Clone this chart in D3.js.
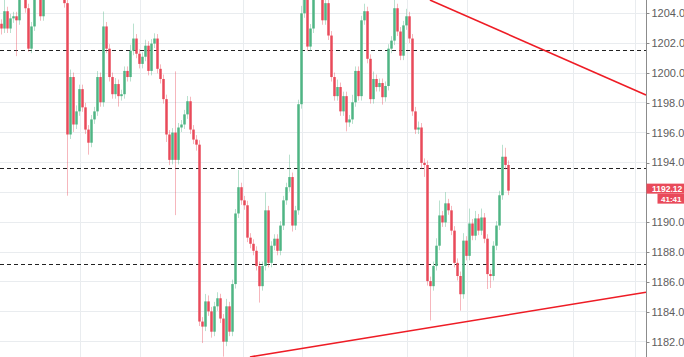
<!DOCTYPE html>
<meta charset="utf-8">
<html>

<head>
    <title>Candles 1182 - 1204</title>
    <style>
        body {
            margin: 0;
            background: #ffffff;
        }

        svg {
            display: block;
        }

        svg text {
            font-family: "Liberation Sans", Arial, sans-serif;
        }
    </style>
    <script src="https://d3js.org/d3.v7.min.js"></script>
</head>

<body>
    <div id="chart-container"></div>

    <script>
        // closing price of every candle left to right
        var closes = [
            1202.98, 1204.14, 1202.98, 1203.66, 1203.80, 1203.53, 1205.35, 1206.03, 1204.34, 1201.63,
            1203.12, 1205.35, 1205.69, 1203.80, 1205.56, 1206.37, 1207.05, 1206.71, 1207.39, 1206.71,
            1206.03, 1204.68, 1195.88, 1199.73, 1196.55, 1197.43, 1198.92, 1197.70, 1196.21, 1195.33,
            1196.89, 1197.43, 1199.73, 1198.04, 1203.12, 1201.63, 1199.73, 1198.58, 1199.26, 1198.45,
            1198.58, 1200.14, 1199.73, 1201.49, 1202.31, 1201.29, 1200.61, 1201.09, 1201.83, 1200.14,
            1201.97, 1202.31, 1200.28, 1199.60, 1198.25, 1195.88, 1194.18, 1196.01, 1194.18, 1196.35,
            1196.55, 1197.23, 1198.11, 1196.21, 1195.54, 1195.20, 1183.35, 1183.01, 1184.70, 1184.03,
            1182.67, 1184.37, 1184.91, 1183.55, 1182.00, 1184.37, 1182.67, 1185.86, 1190.59, 1192.35,
            1191.47, 1191.14, 1188.97, 1188.56, 1188.09, 1187.07, 1185.72, 1187.07, 1190.80, 1187.28,
            1188.43, 1188.90, 1188.09, 1189.78, 1191.47, 1192.35, 1193.03, 1189.78, 1190.80, 1197.91,
            1204.00, 1205.56, 1201.77, 1202.98, 1205.69, 1206.71, 1206.03, 1203.53, 1204.68, 1202.51,
            1199.73, 1198.45, 1199.06, 1197.43, 1198.45, 1196.69, 1196.89, 1198.04, 1200.14, 1198.45,
            1203.53, 1204.14, 1200.95, 1198.25, 1199.60, 1199.06, 1199.33, 1198.38, 1199.13, 1201.63,
            1202.17, 1204.34, 1202.78, 1201.16, 1203.19, 1203.80, 1202.31, 1197.43, 1196.21, 1196.35,
            1193.98, 1193.84, 1186.06, 1185.72, 1187.07, 1188.43, 1190.46, 1189.99, 1191.27, 1190.80,
            1189.44, 1187.28, 1186.40, 1185.18, 1188.77, 1187.75, 1189.92, 1189.10, 1190.26, 1189.44,
            1190.32, 1188.90, 1186.53, 1186.40, 1188.43, 1189.78, 1191.81, 1194.39, 1193.84, 1192.12
        ];
        var firstOpen = 1203.30;

        // wick length above / below the body, in price units
        var upperWick = [
            0.3, 0.9, 0.3, 0.3, 0.3, 0.3, 0.3, 0.3, 0.3, 0.3,
            0.3, 0.3, 0.3, 0.3, 0.3, 0.3, 0.3, 0.3, 0.3, 0.3,
            0.3, 0.3, 0.4, 0.5, 0.3, 0.4, 0.3, 0.3, 0.3, 0.3,
            0.3, 0.3, 0.4, 0.3, 1.0, 0.3, 0.3, 0.3, 0.4, 0.3,
            0.3, 0.3, 0.3, 0.4, 1.0, 0.3, 0.3, 0.3, 0.4, 0.3,
            0.3, 0.35, 0.3, 0.3, 0.3, 0.3, 0.3, 0.3, 4.1, 0.3,
            0.3, 0.3, 0.35, 0.3, 0.3, 0.3, 0.3, 0.3, 0.5, 0.4,
            0.3, 0.3, 0.4, 0.3, 0.3, 0.5, 0.3, 0.3, 0.3, 1.15,
            0.3, 0.3, 0.3, 0.3, 0.3, 0.3, 0.3, 0.3, 1.2, 0.3,
            0.3, 0.3, 0.3, 0.3, 0.3, 0.3, 1.5, 0.3, 0.3, 0.3,
            0.5, 0.3, 0.3, 0.3, 0.3, 0.3, 0.3, 0.3, 0.3, 0.3,
            0.3, 0.3, 0.5, 0.3, 0.3, 0.3, 0.3, 0.5, 0.3, 0.3,
            0.3, 0.5, 0.3, 0.3, 0.5, 0.3, 0.3, 0.3, 0.3, 0.3,
            0.3, 0.7, 0.3, 0.3, 0.3, 0.5, 0.3, 0.3, 0.3, 0.4,
            0.3, 0.3, 0.3, 0.3, 0.3, 0.5, 1.0, 0.3, 0.75, 0.3,
            0.3, 0.3, 0.3, 0.3, 0.5, 0.3, 1.0, 0.3, 0.5, 0.3,
            0.6, 0.3, 0.3, 0.3, 0.3, 0.3, 0.3, 0.8, 0.6, 0.3
        ];
        var lowerWick = [
            0.4, 0.3, 0.3, 0.3, 0.3, 2.4, 0.3, 0.3, 0.3, 0.2,
            0.3, 0.3, 0.3, 0.3, 0.3, 0.3, 0.3, 0.3, 0.3, 0.3,
            0.3, 0.3, 4.1, 0.3, 0.5, 0.3, 0.3, 0.3, 0.3, 0.8,
            0.3, 0.3, 0.3, 0.3, 0.3, 0.3, 0.3, 0.3, 0.3, 0.7,
            0.3, 0.3, 0.3, 0.3, 0.3, 0.3, 0.3, 0.3, 0.3, 0.3,
            0.3, 0.3, 0.3, 0.3, 0.3, 0.5, 0.35, 0.3, 3.7, 0.3,
            0.3, 0.3, 0.3, 0.3, 0.3, 0.4, 0.3, 1.1, 0.3, 0.3,
            0.4, 0.3, 0.3, 0.3, 1.0, 0.3, 0.3, 0.3, 0.3, 0.3,
            0.3, 0.3, 0.3, 0.3, 0.3, 0.3, 1.1, 0.3, 0.3, 0.3,
            0.3, 0.3, 0.3, 0.3, 0.3, 0.3, 0.3, 0.4, 0.3, 0.3,
            0.3, 0.3, 0.3, 0.3, 0.3, 0.3, 0.3, 0.3, 0.3, 0.3,
            0.3, 0.3, 0.3, 0.3, 0.3, 0.6, 0.3, 0.3, 0.3, 0.3,
            0.3, 0.3, 0.3, 0.3, 0.3, 0.3, 0.3, 0.5, 0.3, 0.3,
            0.3, 0.3, 0.3, 0.3, 0.3, 0.3, 0.3, 0.3, 0.3, 0.3,
            0.4, 0.8, 0.3, 2.3, 0.3, 0.3, 0.3, 0.3, 0.3, 0.3,
            0.3, 0.3, 0.3, 1.1, 0.3, 0.3, 0.3, 0.3, 0.3, 0.3,
            0.3, 0.3, 1.0, 0.8, 0.3, 0.3, 0.3, 0.3, 0.3, 0.3
        ];

        var priceTicks = [1182, 1184, 1186, 1188, 1190, 1192, 1194, 1196, 1198, 1200, 1202, 1204];
        // vertical grid lines, in candle index units
        var timeTicks = [26.2, 46.2, 80.8, 100.2, 135.2, 155.2, 190.5, 211.2];
        // horizontal dashed levels
        var levels = [1201.52, 1193.62, 1187.21];
        // red trend lines: [candle index, price]
        var trendUpper = [[142.8, 1204.89], [214.83, 1198.53]];
        var trendLower = [[82.8, 1180.98], [214.83, 1185.31]];
        var lastPrice = 1192.12;
        var countdown = "41:41";

        var width = 684,
            height = 357,
            plotRight = 646.5;

        var upColor = "#4fb584",
            downColor = "#e94a5a";

        var svg = d3.select("#chart-container")
            .append("svg")
            .attr("width", width)
            .attr("height", height);

        var x = d3.scaleLinear()
            .domain([0, 215])
            .range([1.5, 646.5]);

        var y = d3.scaleLinear()
            .domain([1182, 1204])
            .range([341.7, 13.3]);

        svg.append("defs").append("clipPath")
            .attr("id", "plot-clip")
            .append("rect")
            .attr("x", 0)
            .attr("y", 0)
            .attr("width", plotRight)
            .attr("height", height);

        // grid
        var grid = svg.append("g")
            .attr("clip-path", "url(#plot-clip)")
            .attr("stroke", "#e9ecef")
            .attr("stroke-width", 1)
            .attr("shape-rendering", "crispEdges");

        grid.selectAll("line.h")
            .data(priceTicks)
            .enter().append("line")
            .attr("class", "h")
            .attr("x1", 0)
            .attr("x2", plotRight)
            .attr("y1", d => y(d))
            .attr("y2", d => y(d));

        grid.selectAll("line.v")
            .data(timeTicks)
            .enter().append("line")
            .attr("class", "v")
            .attr("x1", d => x(d))
            .attr("x2", d => x(d))
            .attr("y1", 0)
            .attr("y2", height);

        // dashed levels
        svg.append("g")
            .selectAll("line")
            .data(levels)
            .enter().append("line")
            .attr("x1", 0)
            .attr("x2", plotRight)
            .attr("y1", d => Math.round(y(d)) + 0.5)
            .attr("y2", d => Math.round(y(d)) + 0.5)
            .attr("stroke", "#222")
            .attr("stroke-width", 1)
            .attr("stroke-dasharray", "4,3");

        // candles
        var candles = closes.map(function (c, i) {
            var o = i === 0 ? firstOpen : closes[i - 1];
            return {
                i: i,
                open: o,
                close: c,
                high: Math.max(o, c) + upperWick[i],
                low: Math.min(o, c) - lowerWick[i]
            };
        });

        var candleG = svg.append("g")
            .attr("clip-path", "url(#plot-clip)");

        candleG.selectAll("line.wick")
            .data(candles)
            .enter().append("line")
            .attr("class", "wick")
            .attr("x1", d => x(d.i))
            .attr("x2", d => x(d.i))
            .attr("y1", d => y(d.high))
            .attr("y2", d => y(d.low))
            .attr("stroke", d => d.close >= d.open ? upColor : downColor)
            .attr("stroke-opacity", 0.4)
            .attr("stroke-width", 1);

        candleG.selectAll("rect.body")
            .data(candles)
            .enter().append("rect")
            .attr("class", "body")
            .attr("x", d => x(d.i) - 1.25)
            .attr("width", 2.5)
            .attr("y", d => y(Math.max(d.open, d.close)))
            .attr("height", d => Math.max(1, Math.abs(y(d.open) - y(d.close))))
            .attr("fill", d => d.close >= d.open ? upColor : downColor);

        // trend lines
        var line = d3.line()
            .x(d => x(d[0]))
            .y(d => y(d[1]));

        svg.append("g")
            .attr("clip-path", "url(#plot-clip)")
            .selectAll("path")
            .data([trendUpper, trendLower])
            .enter().append("path")
            .attr("d", line)
            .attr("fill", "none")
            .attr("stroke", "#ee1c25")
            .attr("stroke-width", 1.6);

        // price axis
        svg.append("line")
            .attr("x1", plotRight)
            .attr("x2", plotRight)
            .attr("y1", 0)
            .attr("y2", height)
            .attr("stroke", "#8c8c8c")
            .attr("stroke-width", 1);

        var yLast = y(lastPrice) - 2;
        // the tick label hidden behind the last price box is not drawn
        var shownTicks = priceTicks.filter(d => Math.abs(y(d) - yLast) > 10);

        var axisG = svg.append("g");

        axisG.selectAll("line")
            .data(shownTicks)
            .enter().append("line")
            .attr("x1", plotRight)
            .attr("x2", plotRight + 3)
            .attr("y1", d => Math.round(y(d)) + 0.5)
            .attr("y2", d => Math.round(y(d)) + 0.5)
            .attr("stroke", "#8c8c8c");

        axisG.selectAll("text")
            .data(shownTicks)
            .enter().append("text")
            .attr("x", plotRight + 5)
            .attr("y", d => y(d))
            .attr("dy", "0.35em")
            .style("font-size", "11px")
            .style("fill", "#5d5d5d")
            .text(d => d3.format(".2f")(d));

        // last price + countdown labels
        svg.append("rect")
            .attr("x", plotRight)
            .attr("y", yLast - 5)
            .attr("width", width - plotRight)
            .attr("height", 10)
            .attr("fill", downColor);

        svg.append("text")
            .attr("x", plotRight + 5.5)
            .attr("y", yLast)
            .attr("dy", "0.35em")
            .style("font-size", "8.5px")
            .style("font-weight", "bold")
            .style("fill", "#fff")
            .text(d3.format(".2f")(lastPrice));

        svg.append("rect")
            .attr("x", 657.5)
            .attr("y", yLast + 5)
            .attr("width", width - 657.5)
            .attr("height", 10)
            .attr("fill", downColor);

        svg.append("text")
            .attr("x", 661)
            .attr("y", yLast + 10.5)
            .attr("dy", "0.35em")
            .style("font-size", "8px")
            .style("font-weight", "bold")
            .style("fill", "#fff")
            .text(countdown);
    </script>
</body>

</html>
